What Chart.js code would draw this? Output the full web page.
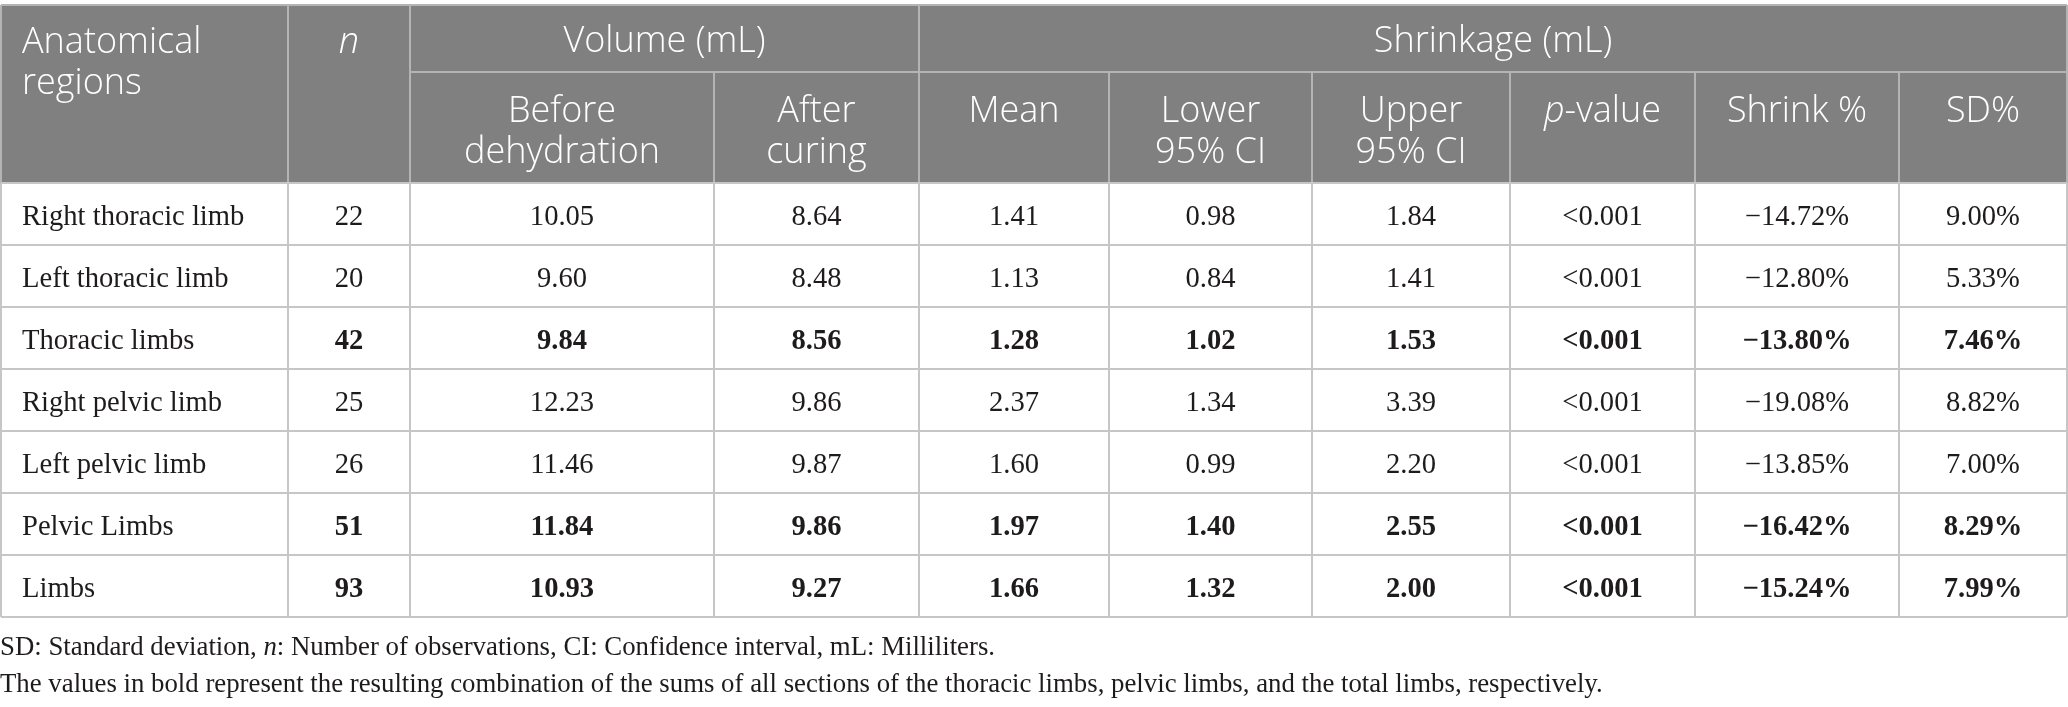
<!DOCTYPE html>
<html>
<head>
<meta charset="utf-8">
<title>Volume and shrinkage by anatomical region</title>
<script src="https://cdn.jsdelivr.net/npm/chart.js@4.4.0/dist/chart.umd.min.js"></script>
<style>
  html, body { margin: 0; padding: 0; background: #fff; }
  #wrap { width: 2068px; height: 707px; }
</style>
</head>
<body>
<div id="wrap"><canvas id="table" width="2068" height="707"></canvas></div>
<script>
// Table data
const regions = ['Right thoracic limb', 'Left thoracic limb', 'Thoracic limbs', 'Right pelvic limb', 'Left pelvic limb', 'Pelvic Limbs', 'Limbs'];
const nObs = [22, 20, 42, 25, 26, 51, 93];
const volBefore = [10.05, 9.60, 9.84, 12.23, 11.46, 11.84, 10.93];
const volAfter = [8.64, 8.48, 8.56, 9.86, 9.87, 9.86, 9.27];
const shrinkMean = [1.41, 1.13, 1.28, 2.37, 1.60, 1.97, 1.66];
const lowerCI = [0.98, 0.84, 1.02, 1.34, 0.99, 1.40, 1.32];
const upperCI = [1.84, 1.41, 1.53, 3.39, 2.20, 2.55, 2.00];
const pValues = ['<0.001', '<0.001', '<0.001', '<0.001', '<0.001', '<0.001', '<0.001'];
const shrinkPct = [-14.72, -12.80, -13.80, -19.08, -13.85, -16.42, -15.24];
const sdPct = [9.00, 5.33, 7.46, 8.82, 7.00, 8.29, 7.99];
const boldRows = [false, false, true, false, false, true, true];

// Header labels (*x* = italic)
const colHeads = [['Anatomical', 'regions'], ['*n*'], ['Before', 'dehydration'], ['After', 'curing'], ['Mean'], ['Lower', '95% CI'], ['Upper', '95% CI'], ['*p*-value'], ['Shrink %'], ['SD%']];
const groupHeads = ['Volume (mL)', 'Shrinkage (mL)'];
const notes = [
  'SD: Standard deviation, *n*: Number of observations, CI: Confidence interval, mL: Milliliters.',
  'The values in bold represent the resulting combination of the sums of all sections of the thoracic limbs, pelvic limbs, and the total limbs, respectively.'
];

// Layout
const colWidths = [287, 122, 304, 205, 190, 203, 198, 185, 204, 168];
const groupSpans = [[2, 3], [4, 9]];
const tableTop = 5, tableLeft = 1;
const headHeights = [67, 111];
const rowHeight = 62;

const fmt = v => (v < 0 ? '\u2212' : '') + Math.abs(v).toFixed(2);
const cellText = i => [
  regions[i], String(nObs[i]), fmt(volBefore[i]), fmt(volAfter[i]), fmt(shrinkMean[i]),
  fmt(lowerCI[i]), fmt(upperCI[i]), pValues[i], fmt(shrinkPct[i]) + '%', fmt(sdPct[i]) + '%'
];

const colEdges = colWidths.reduce((a, w) => { a.push(a[a.length - 1] + w); return a; }, [tableLeft]);
const rowEdges = [tableTop, tableTop + headHeights[0], tableTop + headHeights[0] + headHeights[1]];
regions.forEach(() => rowEdges.push(rowEdges[rowEdges.length - 1] + rowHeight));

// draw text with *italic* parts
function drawRich(ctx, str, px, py, align, size, family, weight) {
  const parts = str.split('*');
  const font = (k) => (k % 2 ? 'italic ' : '') + weight + ' ' + size + 'px ' + family;
  let total = 0;
  parts.forEach((p, k) => { ctx.font = font(k); total += ctx.measureText(p).width; });
  let cx = align === 'center' ? px - total / 2 : px;
  ctx.textAlign = 'left';
  parts.forEach((p, k) => {
    ctx.font = font(k);
    ctx.fillText(p, cx, py);
    cx += ctx.measureText(p).width;
  });
}

const tablePlugin = {
  id: 'tableCells',
  afterDraw(chart) {
    const { ctx, scales: { x, y } } = chart;
    const xs = colEdges.map(v => x.getPixelForValue(v));
    const ys = rowEdges.map(v => y.getPixelForValue(v));
    const last = xs.length - 1;
    const headSans = '"Open Sans", "Noto Sans", sans-serif';
    const bodySerif = '"Liberation Serif", "DejaVu Serif", serif';
    ctx.save();
    ctx.textBaseline = 'alphabetic';

    // header fill
    ctx.fillStyle = '#7f807f';
    ctx.fillRect(xs[0], ys[0], xs[last] - xs[0], ys[2] - ys[0]);

    // header lines
    ctx.strokeStyle = '#b4b4b4';
    ctx.lineWidth = 2;
    const line = (x1, y1, x2, y2) => { ctx.beginPath(); ctx.moveTo(x1, y1); ctx.lineTo(x2, y2); ctx.stroke(); };
    line(xs[0], ys[0], xs[last], ys[0]);
    line(xs[groupSpans[0][0]], ys[1], xs[last], ys[1]);
    xs.forEach((px, c) => {
      const full = c === 0 || c === last || c === 1 || groupSpans.some(s => s[0] === c);
      line(px, full ? ys[0] : ys[1], px, ys[2]);
    });

    // body lines
    ctx.strokeStyle = '#c6c6c6';
    for (let r = 2; r < ys.length; r++) line(xs[0], ys[r], xs[last], ys[r]);
    xs.forEach(px => line(px, ys[2], px, ys[ys.length - 1]));

    // header text
    ctx.fillStyle = '#ffffff';
    const hSize = 36, lh = 41, hw = 300;
    groupHeads.forEach((g, k) => {
      const [a, b] = groupSpans[k];
      drawRich(ctx, g, (xs[a] + xs[b + 1]) / 2, ys[0] + 47, 'center', hSize, headSans, hw);
    });
    colHeads.forEach((lines, c) => {
      const top = c < 2 ? ys[0] + 48 : ys[1] + 50;
      lines.forEach((t, k) => {
        if (c === 0) drawRich(ctx, t, xs[0] + 21, top + k * lh, 'left', hSize, headSans, hw);
        else drawRich(ctx, t, (xs[c] + xs[c + 1]) / 2, top + k * lh, 'center', hSize, headSans, hw);
      });
    });

    // body text
    ctx.fillStyle = '#1e1b1c';
    regions.forEach((_, i) => {
      const base = ys[i + 2] + 42;
      cellText(i).forEach((t, c) => {
        const w = boldRows[i] && c > 0 ? 'bold' : 'normal';
        if (c === 0) drawRich(ctx, t, xs[0] + 21, base, 'left', 28.6, bodySerif, w);
        else drawRich(ctx, t, (xs[c] + xs[c + 1]) / 2, base, 'center', 28.6, bodySerif, w);
      });
    });

    // footnotes
    notes.forEach((t, k) => {
      drawRich(ctx, t, x.getPixelForValue(0), y.getPixelForValue(655 + k * 37), 'left', 26.8, bodySerif, 'normal');
    });
    ctx.restore();
  }
};

new Chart(document.getElementById('table'), {
  type: 'scatter',
  data: { datasets: [] },
  options: {
    responsive: false,
    animation: false,
    layout: { padding: 0 },
    plugins: { legend: { display: false }, tooltip: { enabled: false } },
    scales: {
      x: { type: 'linear', min: 0, max: 2068, display: false },
      y: { type: 'linear', min: 0, max: 707, reverse: true, display: false }
    }
  },
  plugins: [tablePlugin]
});
</script>
</body>
</html>
